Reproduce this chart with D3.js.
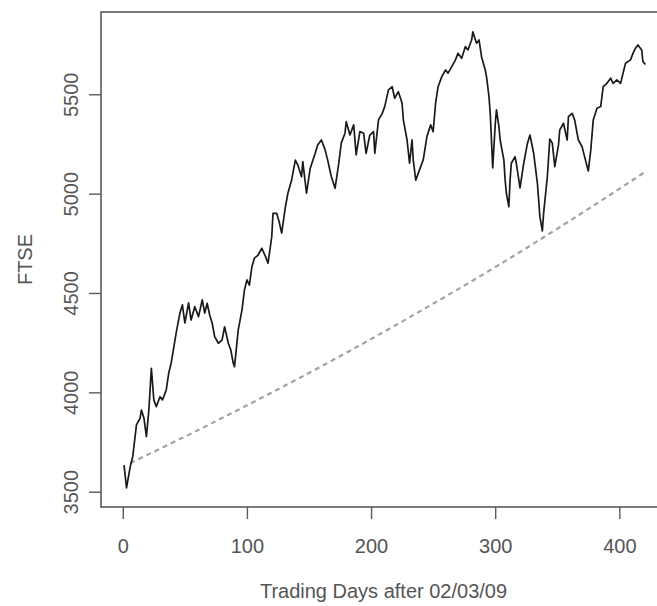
<!DOCTYPE html>
<html>
<head>
<meta charset="utf-8">
<script src="https://cdn.jsdelivr.net/npm/d3@7"></script>
<style>
  html, body { margin: 0; padding: 0; background: #fff; }
  svg { display: block; font-family: "Liberation Sans", Arial, sans-serif; }
</style>
</head>
<body>
<svg id="chart" width="657" height="606"></svg>
<script>
// Trading day index (after 02/03/09) and FTSE closing level
const days = [1,3,6,8,11,14,15,17,19,21,23,25,27,30,32,35,37,39,43,46,48,50,53,55,58,61,64,66,68,70,72,74,77,80,82,85,87,89,90,93,96,98,100,102,104,106,109,112,115,117,120,121,124,126,128,131,133,136,139,141,144,145,148,151,155,157,160,163,165,168,171,174,176,179,180,183,186,188,191,194,196,199,202,203,206,209,211,214,217,219,222,225,226,229,231,233,234,236,240,242,245,248,250,252,254,257,260,262,265,268,270,273,276,278,281,282,285,287,289,292,293,295,296,297,298,300,301,303,304,307,308,309,311,312,313,316,317,320,323,326,328,331,334,336,338,339,342,344,346,348,351,352,355,358,359,362,364,367,370,372,375,377,379,382,385,387,390,393,395,398,401,403,405,409,411,413,415,418,419,421];
const ftse = [3634,3519,3626,3676,3836,3871,3911,3871,3777,3911,4121,3962,3928,3978,3962,4012,4097,4148,4299,4399,4440,4349,4450,4364,4431,4381,4465,4399,4448,4389,4349,4280,4247,4264,4330,4247,4213,4146,4129,4314,4414,4515,4566,4540,4632,4675,4691,4725,4683,4650,4783,4901,4901,4857,4801,4934,5002,5069,5169,5144,5085,5161,5002,5128,5203,5245,5270,5220,5170,5085,5027,5153,5254,5304,5362,5295,5346,5195,5312,5304,5203,5295,5312,5203,5371,5404,5438,5522,5538,5480,5513,5455,5371,5270,5153,5270,5169,5068,5136,5169,5287,5346,5312,5455,5538,5589,5622,5606,5639,5673,5706,5681,5740,5723,5773,5814,5757,5773,5689,5622,5589,5488,5404,5270,5129,5346,5421,5337,5270,5169,5069,5002,4934,5069,5153,5186,5153,5029,5153,5254,5295,5203,5052,4884,4812,4901,5085,5275,5254,5136,5245,5320,5354,5270,5387,5404,5371,5270,5236,5186,5114,5220,5371,5430,5438,5538,5555,5581,5555,5572,5555,5606,5656,5673,5706,5732,5748,5723,5664,5650];

// Dashed reference curve
const trendDays = [6,60,120,180,240,300,340,380,421];
const trendVals = [3644,3808,3999,4199,4410,4630,4784,4943,5110];

const xTicks = [0,100,200,300,400];
const yTicks = [3500,4000,4500,5000,5500];
const xLabel = "Trading Days after 02/03/09";
const yLabel = "FTSE";

const svg = d3.select("#chart");
const L = 101, R = 666, T = 12, B = 507;

const x = d3.scaleLinear().domain([-17.56, 437.6]).range([L, R]);
const y = d3.scaleLinear().domain([3423, 5914]).range([B, T]);

const series = days.map((d, i) => ({d, v: ftse[i]}));
const trend = trendDays.map((d, i) => ({d, v: trendVals[i]}));

svg.append("defs").append("clipPath").attr("id", "clip")
  .append("rect").attr("x", L).attr("y", T).attr("width", R - L).attr("height", B - T);

const g = svg.append("g").attr("clip-path", "url(#clip)");

g.append("path").datum(trend)
  .attr("fill", "none")
  .attr("stroke", "#a3a3a3")
  .attr("stroke-width", 2.2)
  .attr("stroke-dasharray", "5,4")
  .attr("d", d3.line().x(p => x(p.d)).y(p => y(p.v)).curve(d3.curveMonotoneX));

g.append("path").datum(series)
  .attr("fill", "none")
  .attr("stroke", "#1a1a1a")
  .attr("stroke-width", 1.7)
  .attr("stroke-linejoin", "round")
  .attr("d", d3.line().x(p => x(p.d)).y(p => y(p.v)));

// box
svg.append("rect")
  .attr("x", L).attr("y", T).attr("width", R - L).attr("height", B - T)
  .attr("fill", "none").attr("stroke", "#5a5a5a").attr("stroke-width", 1.6);

const txt = "#555";

// x axis
const xa = svg.append("g").attr("transform", `translate(0,${B})`)
  .call(d3.axisBottom(x).tickValues(xTicks).tickSize(12).tickFormat(d3.format("d")));
xa.select(".domain").remove();
xa.selectAll("line").attr("stroke", "#5a5a5a").attr("stroke-width", 1.4);
xa.selectAll("text").attr("y", 46).attr("dy", null)
  .attr("font-size", 20).attr("fill", txt).attr("font-family", "Liberation Sans, Arial, sans-serif");

// y axis
const ya = svg.append("g").attr("transform", `translate(${L},0)`)
  .call(d3.axisLeft(y).tickValues(yTicks).tickSize(12).tickFormat(d3.format("d")));
ya.select(".domain").remove();
ya.selectAll("line").attr("stroke", "#5a5a5a").attr("stroke-width", 1.4);
ya.selectAll("text").remove();
ya.selectAll(".tick").append("text")
  .attr("transform", "translate(-23,0) rotate(-90)")
  .attr("text-anchor", "middle")
  .attr("font-size", 20).attr("fill", txt)
  .attr("font-family", "Liberation Sans, Arial, sans-serif")
  .text(d => d);

// titles
svg.append("text")
  .attr("x", (L + R) / 2).attr("y", 598)
  .attr("text-anchor", "middle").attr("font-size", 20).attr("fill", txt)
  .text(xLabel);
svg.append("text")
  .attr("transform", `translate(32,${(T + B) / 2}) rotate(-90)`)
  .attr("text-anchor", "middle").attr("font-size", 20).attr("fill", txt)
  .text(yLabel);
</script>
</body>
</html>
